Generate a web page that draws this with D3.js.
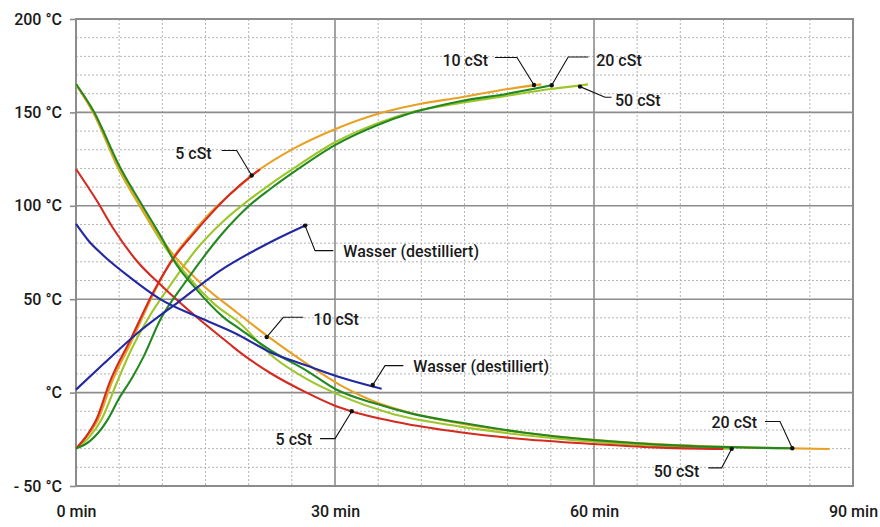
<!DOCTYPE html>
<html>
<head>
<meta charset="utf-8">
<script src="https://cdn.jsdelivr.net/npm/d3@7"></script>
<style>
  body { margin: 0; background: #fff; }
  text { font-family: Roboto, "Liberation Sans", sans-serif; font-weight: 500; fill: #1a1a1a; }
</style>
</head>
<body>
<div id="chart"></div>
<script>
// tick labels
const yTicks = [-50, 0, 50, 100, 150, 200]
const yTickLabels = ["- 50 °C", "°C", "50 °C", "100 °C", "150 °C", "200 °C"]
const xTicks = [0, 30, 60, 90]
const xTickLabels = ["0 min", "30 min", "60 min", "90 min"]

// heating curves (min, °C)
const heat5 = [[0,-30],[1.4,-22],[2.4,-14],[3.9,5.5],[6.25,27.8],[9.15,55.5],[11.3,72],[13.6,85],[15.5,95],[17.8,106],[20.3,116],[21.3,119.5]]
const heat10 = [[0,-30],[1.5,-22],[2.6,-14],[4.1,5],[6.4,27],[9.2,55],[11.3,72.5],[13.6,86],[15.5,96],[17.8,106],[21.3,119.5],[25.2,130.6],[30,141],[34.8,149],[39.8,154.5],[44.5,158],[50,162.5],[53.9,165]]
const heat20 = [[0,-30],[1.6,-26],[3.6,-15],[5,-3],[6.5,8],[7.8,19],[9.7,38.5],[12.8,60],[17.1,86],[19.8,99],[22.5,109],[25.2,118],[30,132.5],[34.8,143],[38.7,149.5],[44.5,156],[50,160],[55.1,164.5]]
const heat50 = [[0,-30],[1.5,-24],[3,-14],[4.7,5],[6.3,22],[8.2,38.5],[11,58],[14,77],[17,91.5],[20,103],[22.5,111.5],[25.2,120],[30,134],[34.8,144],[38.7,150],[44.5,155],[50,159],[55,162.5],[59.3,165]]
const heatWater = [[0,1.6],[3.2,15.4],[7,31.4],[12,49],[16.7,65.3],[22.5,80.5],[26.8,90]]

// cooling curves (min, °C)
const cool5 = [[0,119.7],[2.4,102.8],[4.3,88],[7,70.7],[10.1,56.4],[14,40.3],[17.8,26],[19,21.5],[22.5,10.5],[26.7,0],[30,-7],[31.9,-10],[38.3,-16.8],[44.5,-21.2],[52,-25],[59.9,-27.5],[67,-29.3],[75,-30.2]]
const cool10 = [[0,165],[2,150],[5,120],[7.8,97],[10.9,76],[14.7,57.5],[18.6,43],[22.1,30.5],[26.7,15.5],[30.6,4],[34.4,-4.5],[39,-11.2],[44.5,-16.5],[52,-21.5],[60,-25.3],[70,-28.2],[80,-29.6],[87.3,-30.2]]
const cool20 = [[0,165.2],[2,151],[5.1,120.6],[7.8,99.2],[10.1,81.4],[11.3,71],[14,55],[17.1,40.3],[19,34],[22.9,21.6],[26.7,11.8],[30.2,1.5],[34.4,-5.5],[39,-11.4],[44.5,-16],[52,-21.5],[59.9,-25.4],[70,-28.4],[83,-29.8]]
const cool50 = [[0,165],[2,150],[5,119],[7.5,99],[10,80],[13,62],[16,47.5],[19,37],[22.9,18.9],[26.7,7.3],[30.6,-1.5],[36.4,-11],[44.5,-18.2],[52,-22.8],[60,-26.3],[68,-28.8],[76,-30.1]]
const coolWater = [[0,90.3],[1.5,81],[3.2,73.3],[6.25,61.7],[9.7,50.2],[14.7,39.4],[18.6,31.4],[22.5,21.6],[26.7,14.5],[30.6,8.2],[35.4,2]]

const series = [
    { name: "50 cSt heat", data: heat50, color: "#9cc62b" },
    { name: "50 cSt cool", data: cool50, color: "#9cc62b" },
    { name: "10 cSt heat", data: heat10, color: "#e9a125" },
    { name: "10 cSt cool", data: cool10, color: "#e9a125" },
    { name: "5 cSt heat", data: heat5, color: "#d42a20" },
    { name: "5 cSt cool", data: cool5, color: "#d42a20" },
    { name: "20 cSt heat", data: heat20, color: "#23881f" },
    { name: "20 cSt cool", data: cool20, color: "#23881f" },
    { name: "Wasser heat", data: heatWater, color: "#2228a0" },
    { name: "Wasser cool", data: coolWater, color: "#2228a0" }
]

// annotation labels and the curve point they point to
const notes = [
    { text: "5 cSt", at: [20.35, 116.2] },
    { text: "10 cSt", at: [53.05, 164.7] },
    { text: "20 cSt", at: [55.1, 164.5] },
    { text: "50 cSt", at: [58.38, 163.8] },
    { text: "Wasser (destilliert)", at: [26.53, 89.4] },
    { text: "10 cSt", at: [22.09, 29.7] },
    { text: "Wasser (destilliert)", at: [34.37, 4.1] },
    { text: "5 cSt", at: [31.94, -10] },
    { text: "20 cSt", at: [82.97, -29.8] },
    { text: "50 cSt", at: [75.95, -30.1] }
]
// leader shape per note: elbow offset, line end, text gap / baseline shift
const leaders = [
    { ex: -15, ey: -25, lx: -30, side: "end", gap: 10, ty: 8.5 },
    { ex: -17, ey: -27.5, lx: -39, side: "end", gap: 7, ty: 8.5 },
    { ex: 16.5, ey: -28.3, lx: 36.5, side: "start", gap: 8, ty: 9 },
    { ex: 25, ey: 10.7, lx: 31.5, side: "start", gap: 3.5, ty: 9 },
    { ex: 10, ey: 25, lx: 28.3, side: "start", gap: 10, ty: 6 },
    { ex: 16.6, ey: -19.8, lx: 36.6, side: "start", gap: 10, ty: 8 },
    { ex: 12.3, ey: -19.3, lx: 30.6, side: "start", gap: 10, ty: 6 },
    { ex: -16.7, ey: 27.3, lx: -31.7, side: "end", gap: 8, ty: 6 },
    { ex: -12.3, ey: -26.7, lx: -27.3, side: "end", gap: 8, ty: 6 },
    { ex: -10, ey: 19, lx: -23.4, side: "end", gap: 9, ty: 9 }
]

const width = 880, height = 527
const margin = { top: 19, right: 27, bottom: 41, left: 76 }

const svg = d3.select("#chart")
    .append("svg")
    .attr("width", width)
    .attr("height", height)

const x = d3.scaleLinear()
    .domain([0, 90])
    .range([margin.left, width - margin.right])

const y = d3.scaleLinear()
    .domain([-50, 200])
    .range([height - margin.bottom, margin.top])

// minor dotted grid
const grid = svg.append("g")
grid.selectAll("line.vminor")
    .data(d3.range(5, 90, 5).filter(d => d % 30 !== 0))
    .join("line")
    .attr("x1", d => x(d)).attr("x2", d => x(d))
    .attr("y1", y(200)).attr("y2", y(-50))
    .attr("stroke", "#b4b4b4")
    .attr("stroke-dasharray", "2,2")
grid.selectAll("line.hminor")
    .data(d3.range(-40, 200, 10).filter(d => d % 50 !== 0))
    .join("line")
    .attr("x1", x(0)).attr("x2", x(90))
    .attr("y1", d => y(d)).attr("y2", d => y(d))
    .attr("stroke", "#b4b4b4")
    .attr("stroke-dasharray", "2,2")

// major grid
svg.append("g").selectAll("line")
    .data(xTicks.slice(1, -1))
    .join("line")
    .attr("x1", d => x(d)).attr("x2", d => x(d))
    .attr("y1", y(200)).attr("y2", y(-50))
    .attr("stroke", "#8c8c8c")
    .attr("stroke-width", 1.6)
svg.append("g").selectAll("line")
    .data(yTicks.slice(1, -1))
    .join("line")
    .attr("x1", x(0)).attr("x2", x(90))
    .attr("y1", d => y(d)).attr("y2", d => y(d))
    .attr("stroke", "#8c8c8c")
    .attr("stroke-width", 1.6)

// frame
svg.append("rect")
    .attr("x", x(0)).attr("y", y(200))
    .attr("width", x(90) - x(0))
    .attr("height", y(-50) - y(200))
    .attr("fill", "none")
    .attr("stroke", "#8c8c8c")
    .attr("stroke-width", 2)

// y axis
const yAxis = svg.append("g")
    .attr("transform", "translate(" + x(0) + ",0)")
    .call(d3.axisLeft(y).tickValues(yTicks).tickSize(6).tickPadding(8)
        .tickFormat((d, i) => yTickLabels[i]))
yAxis.select(".domain").remove()
yAxis.selectAll(".tick line").attr("stroke", "#8c8c8c").attr("stroke-width", 1.6)
yAxis.selectAll(".tick text")
    .style("font-size", "16px")
    .style("font-family", "Roboto")
    .attr("fill", "#1a1a1a")

// x axis
const xAxis = svg.append("g")
    .attr("transform", "translate(0," + y(-50) + ")")
    .call(d3.axisBottom(x).tickValues(xTicks).tickSize(0).tickPadding(20)
        .tickFormat((d, i) => xTickLabels[i]))
xAxis.select(".domain").remove()
xAxis.selectAll(".tick text")
    .style("font-size", "16px")
    .style("font-family", "Roboto")
    .attr("fill", "#1a1a1a")

// curves
const line = d3.line()
    .x(d => x(d[0]))
    .y(d => y(d[1]))
    .curve(d3.curveMonotoneX)

svg.append("g").selectAll("path")
    .data(series)
    .join("path")
    .attr("fill", "none")
    .attr("stroke", d => d.color)
    .attr("stroke-width", 2.1)
    .attr("stroke-linejoin", "round")
    .attr("d", d => line(d.data))

// annotations
notes.forEach((n, i) => {
    const L = leaders[i]
    const px = x(n.at[0]), py = y(n.at[1])
    const ly = py + L.ey
    svg.append("path")
        .attr("d", "M" + px + "," + py + "L" + (px + L.ex) + "," + ly + "L" + (px + L.lx) + "," + ly)
        .attr("fill", "none")
        .attr("stroke", "#111")
        .attr("stroke-width", 1.1)
    svg.append("circle")
        .attr("cx", px).attr("cy", py)
        .attr("r", 2.2)
        .attr("fill", "#111")
    svg.append("text")
        .attr("x", px + L.lx + (L.side === "end" ? -L.gap : L.gap))
        .attr("y", ly + L.ty)
        .attr("text-anchor", L.side)
        .style("font-size", "16px")
        .text(n.text)
})
</script>
</body>
</html>
